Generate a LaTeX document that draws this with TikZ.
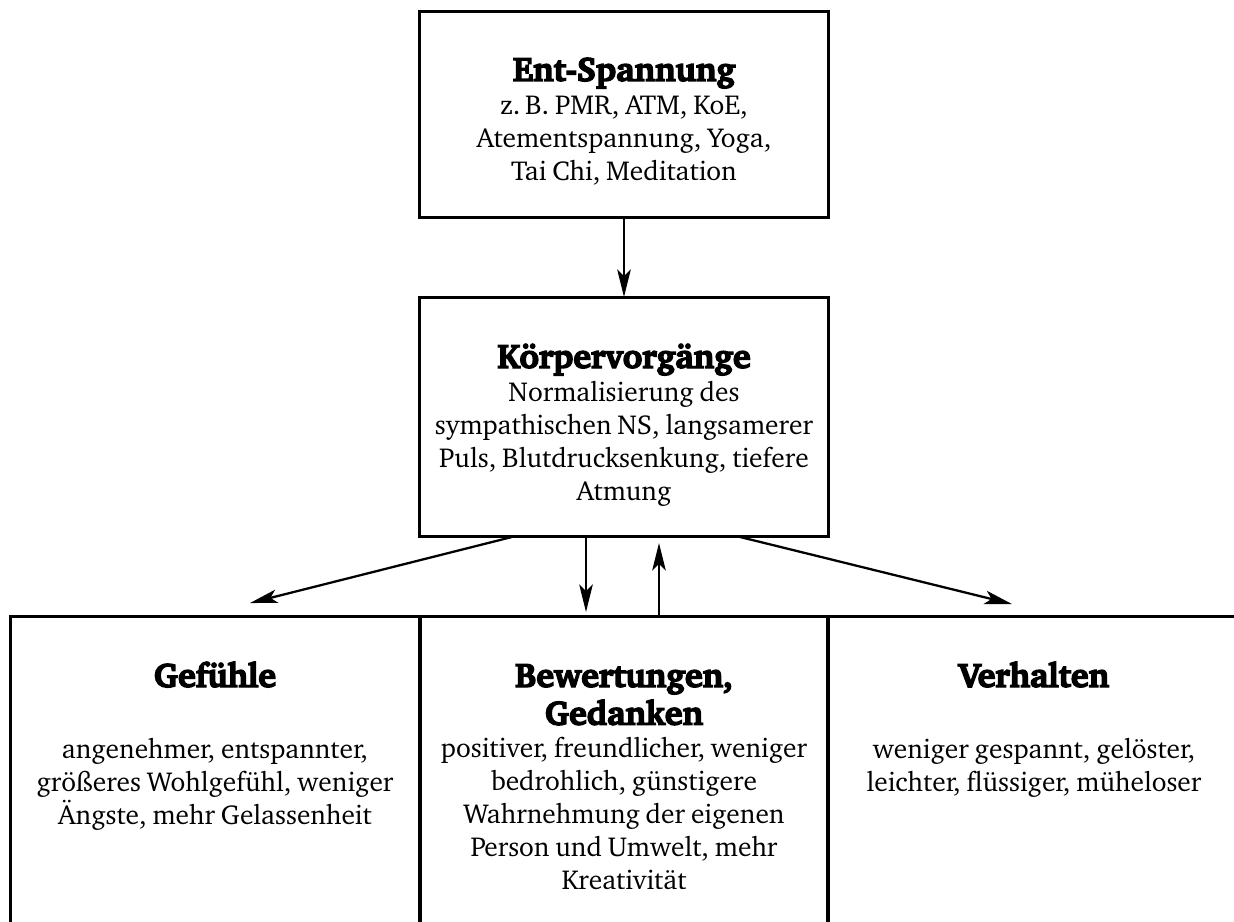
\documentclass[tikz,border=0pt]{standalone}
\usepackage[T1]{fontenc}
\usepackage{charter}
\usetikzlibrary{arrows.meta}

% type sizes for the box texts; headings are set in a heavier, stroked bold
\newcommand\boxhead{\fontsize{19.3}{21.5}\selectfont\bfseries\special{pdf:literal direct 2 Tr 0.8 w}}
\newcommand\boxbody{\special{pdf:literal direct 0 Tr}\fontsize{15.6}{18.8}\selectfont\mdseries}

\begin{document}
\begin{tikzpicture}[x=0.02cm, y=-0.02cm,
  frame/.style={draw, line width=1.7pt, outer sep=0pt, inner sep=0pt},
  label text/.style={align=center, text width=8cm, inner sep=0pt, anchor=base},
  arr/.style={-{Stealth[length=0.55cm, width=0.27cm, inset=0.13cm]}, line width=1.3pt}]

\clip (0,0) rectangle (1234,922);

% boxes
\node[frame, minimum width=8.2cm, minimum height=4.14cm] (ent) at (624,114.5) {};
\node[frame, minimum width=8.2cm, minimum height=4.8cm] (koerper) at (624,417) {};
\node[frame, minimum width=8.2cm, minimum height=6.6cm] (gef) at (215,781) {};
\node[frame, minimum width=8.16cm, minimum height=6.6cm] (bew) at (624,781) {};
\node[frame, minimum width=8.24cm, minimum height=6.6cm] (verh) at (1034,781) {};

% texts
\node[label text] (ent-t) at (624,81) {\boxhead Ent-Spannung\par
  \boxbody z.\,B. PMR, ATM, KoE,\\ Atementspannung, Yoga,\\ Tai Chi, Meditation\par};
\node[label text] (koerper-t) at (624,368) {\boxhead Körpervorgänge\par
  \boxbody Normalisierung des\\ sympathischen NS, langsamerer\\ Puls, Blutdrucksenkung, tiefere\\ Atmung\par};
\node[label text] (gef-t) at (215,687) {\boxhead Gefühle\par\vspace{22pt}
  \boxbody angenehmer, entspannter,\\ grö\ss{}eres Wohlgefühl, weniger\\ Ängste, mehr Gelassenheit\par};
\node[label text] (bew-t) at (624,687) {\boxhead Bewertungen,\\ Gedanken\par
  \boxbody positiver, freundlicher, weniger\\ bedrohlich, günstigere\\ Wahrnehmung der eigenen\\ Person und Umwelt, mehr\\ Kreativität\par};
\node[label text] (verh-t) at (1034,687) {\boxhead Verhalten\par\vspace{22pt}
  \boxbody weniger gespannt, gelöster,\\ leichter, flüssiger, müheloser\par};

% connectors
\draw[arr] (ent.south) -- (koerper.north);
\draw[arr] ([xshift=-0.76cm]koerper.south) -- ([xshift=-0.76cm, yshift=0.08cm]bew.north);
\draw[arr] ([xshift=0.7cm]bew.north) -- ([xshift=0.7cm, yshift=-0.12cm]koerper.south);
\draw[arr] ([xshift=-2.24cm]koerper.south) -- ([xshift=0.7cm, yshift=0.26cm]gef.north);
\draw[arr] ([xshift=2.32cm]koerper.south) -- ([xshift=-0.44cm, yshift=0.24cm]verh.north);
\end{tikzpicture}
\end{document}
